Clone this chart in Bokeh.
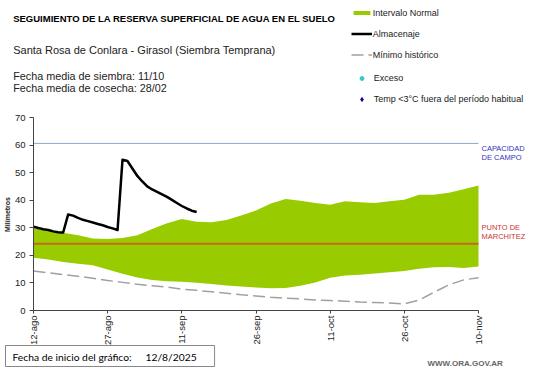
import math
from bokeh.plotting import figure
from bokeh.models import (Range1d, FixedTicker, Label, Legend, LegendItem)
from bokeh.embed import file_html
from bokeh.resources import INLINE

# ---------------- data ----------------
inicio = "12/8/2025"
dias_ticks = [0, 15, 30, 45, 60, 75, 90]
etiquetas_x = ["12-ago", "27-ago", "11-sep", "26-sep", "11-oct", "26-oct", "10-nov"]
ticks_y = [0, 10, 20, 30, 40, 50, 60, 70]

capacidad_campo = 60.6
punto_marchitez = 24.2

dias_banda = [0, 3, 6, 9, 12, 15, 18, 21, 24, 27, 30, 33, 36, 39, 42, 45, 48, 51,
              54, 57, 60, 63, 66, 69, 72, 75, 78, 81, 84, 87, 90]
normal_sup = [29.8, 29.0, 28.2, 27.3, 26.1, 25.9, 26.3, 27.3, 29.6, 31.6, 33.2, 32.2,
              32.0, 32.8, 34.5, 36.3, 38.8, 40.4, 39.8, 39.0, 38.4, 39.6, 39.3, 39.0,
              39.6, 40.2, 42.0, 42.0, 42.7, 44.0, 45.3]
normal_inf = [19.1, 18.5, 17.6, 17.0, 16.4, 14.9, 13.3, 12.0, 11.1, 10.6, 10.4, 10.1,
              9.6, 9.1, 8.7, 8.3, 8.1, 8.2, 9.0, 10.2, 11.9, 12.7, 13.0, 13.4, 13.9,
              14.3, 15.1, 15.7, 15.8, 15.4, 16.0]
minimo_hist = [14.3, 13.7, 13.0, 12.4, 11.7, 10.9, 10.2, 9.5, 9.0, 8.5, 7.7, 7.3,
               6.8, 6.3, 5.7, 5.3, 4.8, 4.5, 4.2, 3.8, 3.6, 3.4, 3.1, 2.9, 2.7,
               2.4, 3.8, 6.6, 9.3, 11.1, 11.9]

dias_alm = list(range(0, 34))
almacenaje = [30.4, 29.9, 29.5, 29.2, 28.7, 28.4, 28.3, 34.8, 34.4, 33.6, 32.9, 32.4,
              31.9, 31.4, 30.9, 30.3, 29.8, 29.2, 54.7, 54.2, 51.5, 48.8, 46.8, 45.0,
              43.9, 43.0, 42.1, 41.2, 40.1, 39.0, 37.9, 37.0, 36.2, 35.7]

# no events in this period (legend-only series)
exceso_x, exceso_y = [float("nan")], [float("nan")]
temp_x, temp_y = [float("nan")], [float("nan")]

# ---------------- layout ----------------
W, H = 541, 368
FL, FR, FT, FB = 33, 478, 117, 310   # chart area edges in canvas px
X0, X1, Y0, Y1 = 0, 90, 0, 70
SX = (X1 - X0) / (FR - FL)
SY = (Y1 - Y0) / (FB - FT)

def dx(px):
    return X0 + (px - FL) * SX

def dy(py):
    return Y0 + (FB - py) * SY

FONT = "Liberation Sans"

p = figure(width=W, height=H, output_backend="svg", toolbar_location=None,
           x_range=Range1d(dx(0), dx(W)), y_range=Range1d(dy(H), dy(0)),
           min_border=0)
p.outline_line_color = None
p.xgrid.visible = False
p.ygrid.visible = False
p.background_fill_color = "white"
p.border_fill_color = "white"

r_band = p.varea(x=dias_banda, y1=normal_inf, y2=normal_sup, fill_color="#99cc00")
p.line([dias_ticks[0], dias_ticks[-1]], [punto_marchitez, punto_marchitez],
       line_color="#c46a1c", line_width=2)
p.line([dias_ticks[0], dias_ticks[-1]], [capacidad_campo, capacidad_campo],
       line_color="#8ea8c8", line_width=1)
r_min = p.line(dias_banda, minimo_hist, line_color="#a0a0a0", line_width=1.5,
               line_dash="12 5")
r_alm = p.line(dias_alm, almacenaje, line_color="black", line_width=2.5,
               line_join="round")
r_exc = p.scatter(x=exceso_x, y=exceso_y, marker="circle", size=4,
                  fill_color="#33cccc", line_color="#33cccc")
r_tmp = p.scatter(x=temp_x, y=temp_y, marker="diamond", size=6,
                  fill_color="#000099", line_color="#000099")

# axes (fixed at the chart origin)
for ax in (p.xaxis, p.yaxis):
    ax.fixed_location = 0
    ax.axis_line_color = "#444444"
    ax.major_tick_line_color = "#444444"
    ax.minor_tick_line_color = None
    ax.major_tick_in = 0
    ax.major_label_text_font = FONT
    ax.major_label_text_font_size = "9.5px"
    ax.major_label_text_color = "#222222"
p.xaxis.bounds = (dias_ticks[0], dias_ticks[-1])
p.xaxis.ticker = FixedTicker(ticks=dias_ticks)
p.xaxis.major_label_overrides = {d: t for d, t in zip(dias_ticks, etiquetas_x)}
p.xaxis.major_label_orientation = math.pi / 2
p.xaxis.major_tick_out = 3
p.xaxis.major_label_standoff = 2
p.yaxis.bounds = (ticks_y[0], ticks_y[-1])
p.yaxis.ticker = FixedTicker(ticks=ticks_y)
p.yaxis.major_tick_out = 4
p.yaxis.major_label_standoff = 4

def lab(text, px, py, size, color="#222222", style="normal", align="left",
        baseline="alphabetic", angle=0, font=FONT):
    p.add_layout(Label(x=dx(px), y=dy(py), text=text, text_font=font,
                       text_font_size=size, text_color=color, text_font_style=style,
                       text_align=align, text_baseline=baseline, angle=angle))

lab("SEGUIMIENTO DE LA RESERVA SUPERFICIAL DE AGUA EN EL SUELO", 12.7, 18.3,
    "9.5px", color="black", style="bold")
lab("Santa Rosa de Conlara - Girasol (Siembra Temprana)", 12.7, 49.5, "11px")
lab("Fecha media de siembra: 11/10", 12.7, 75, "10.8px")
lab("Fecha media de cosecha: 28/02", 12.7, 87, "10.8px")

lab("Milímetros", 7, 214, "7px", color="#222222", style="bold", align="center",
    baseline="middle", angle=math.pi / 2)

lab("CAPACIDAD", 481, 148.3, "7.5px", color="#3333bb")
lab("DE CAMPO", 481, 157.3, "7.5px", color="#3333bb")
lab("PUNTO DE", 481, 227.3, "7.5px", color="#cc3333")
lab("MARCHITEZ", 481, 236, "7.5px", color="#cc3333")

lab("WWW.ORA.GOV.AR", 427, 363, "8px", color="#666666", style="bold")

# bottom info box
p.add_layout(Label(x=dx(5), y=dy(366), text="Fecha de inicio del gráfico:",
                   text_font="Lato", text_font_size="10.3px", text_color="black",
                   anchor="bottom_left",
                   padding=dict(left=7, right=83, top=5, bottom=4),
                   border_line_color="#888888", border_line_width=1,
                   background_fill_color="white"))
p.add_layout(Label(x=dx(145), y=dy(366), text=inicio,
                   text_font="Lato", text_font_size="10.3px", text_color="black",
                   anchor="bottom_left", padding=dict(left=0, right=0, top=5, bottom=4)))

# legends
leg1 = Legend(items=[LegendItem(label="Intervalo Normal", renderers=[r_band]),
                     LegendItem(label="Almacenaje", renderers=[r_alm]),
                     LegendItem(label="Mínimo histórico", renderers=[r_min])],
              location=(350.7, H - 62), orientation="vertical",
              glyph_width=21, glyph_height=5, label_height=15, spacing=6,
              label_standoff=1, padding=0, margin=0,
              label_text_font=FONT, label_text_font_size="9px",
              label_text_color="#222222",
              background_fill_alpha=0, border_line_alpha=0)
leg2 = Legend(items=[LegendItem(label="Exceso", renderers=[r_exc], index=0),
                     LegendItem(label="Temp <3°C fuera del período habitual",
                                renderers=[r_tmp], index=0)],
              location=(350.7, H - 106.8), orientation="vertical",
              glyph_width=21, glyph_height=10, label_height=15, spacing=6,
              label_standoff=2, padding=0, margin=0,
              label_text_font=FONT, label_text_font_size="9px",
              label_text_color="#222222",
              background_fill_alpha=0, border_line_alpha=0)
p.add_layout(leg1)
p.add_layout(leg2)

open("out.html", "w").write(file_html(p, INLINE))
